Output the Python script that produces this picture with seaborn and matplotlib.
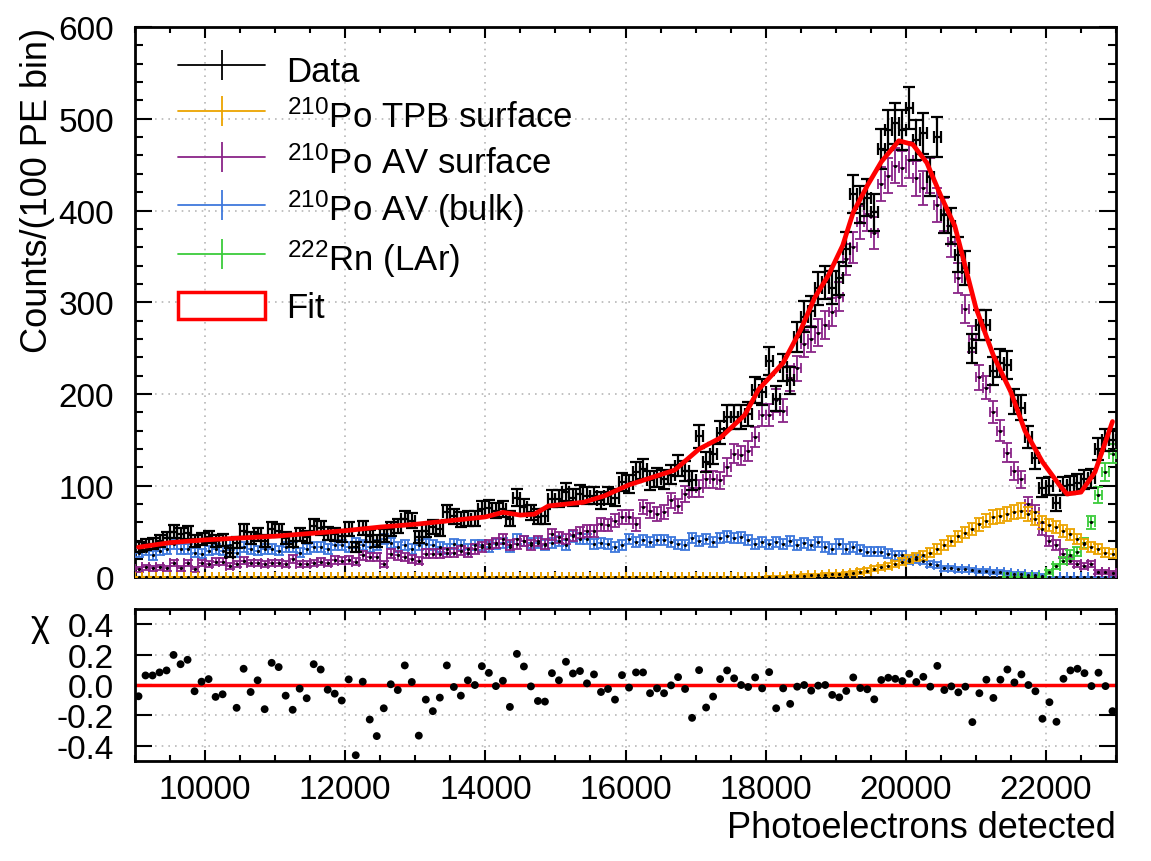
import numpy as np
import pandas as pd
import matplotlib
matplotlib.use("Agg")
import matplotlib.pyplot as plt
import seaborn as sns
from matplotlib.lines import Line2D
from matplotlib.patches import Patch, Rectangle
from matplotlib.legend_handler import HandlerPatch
from matplotlib.ticker import MultipleLocator, FormatStrFormatter

# ---------------- data ----------------
bin_width = 100
bin_centers = np.arange(9050, 23000, bin_width)  # 140 bins of 100 PE

data_counts = [33, 36, 37, 40, 43, 50, 47, 49, 40, 42, 44, 40, 41, 27, 38, 51, 43, 47, 40, 53,
               51, 43, 40, 47, 44, 56, 54, 48, 47, 45, 53, 33, 54, 45, 40,
               46, 53, 56, 64, 62, 44, 51, 55, 53, 71, 67, 63, 64, 64, 75, 76, 73, 75, 64, 87,
               77, 71, 66, 67, 86, 86, 93, 87, 91, 89, 89, 84, 89, 87,
               104, 102, 115, 118, 106, 109, 107, 112, 122, 116, 106, 154, 126, 135, 158, 175,
               175, 175, 178, 204, 202, 236, 195, 229, 215, 262, 284, 290, 315,
               322, 316, 326, 358, 418, 407, 414, 398, 467, 488, 495, 488, 512, 477, 484, 437,
               480, 395, 383, 352, 337,
               250, 275, 275, 225, 234, 232, 192, 185, 153, 130, 98, 100, 81, 100, 101, 103,
               107, 108, 140, 150, 150]

po_av_surface = [9, 11, 10, 11, 10, 16, 10, 16, 9, 16, 15, 17, 17, 13, 15, 18, 16, 16, 15, 16,
                 16, 15, 20, 15, 15, 16, 17, 16, 19, 18, 19, 17, 24, 22, 22,
                 15, 26, 24, 22, 20, 18, 26, 26, 26, 27, 27, 29, 27, 31, 33, 36, 38, 42, 35, 37,
                 40, 35, 40, 37, 47, 44, 42, 46, 49, 51, 51, 58, 57, 62, 66, 66,
                 58, 77, 73, 69, 71, 84, 78, 91, 97, 97, 107, 107, 106, 120, 135, 133, 138, 153,
                 177, 177, 193, 182, 217, 228, 255, 260, 267,
                 275, 289, 306, 347, 360, 387, 396, 376, 429, 438, 449, 446, 455, 435, 424, 438,
                 406, 396, 366, 326, 293,
                 260, 218, 207, 180, 160, 136, 116, 107, 80, 71, 53, 40, 35, 26, 18, 15, 13, 15,
                 6, 6, 5]

po_av_bulk = [27, 29, 24, 29, 31, 36, 31, 31, 27, 26, 29, 31, 29, 35, 27, 33, 31, 29, 31, 31,
              29, 33, 33, 27, 31, 33, 33, 31, 35, 35, 33, 38, 35, 33, 35,
              42, 38, 33, 35, 31, 35, 37, 35, 33, 31, 37, 35, 31, 35, 35, 33, 37, 38, 33, 42,
              40, 38, 38, 35, 38, 40, 35, 45, 42, 42, 37, 38, 37, 33,
              35, 42, 39, 41, 39, 41, 41, 39, 36, 35, 43, 40, 42, 39, 43, 45, 43, 44, 41, 37,
              39, 36, 39, 37, 40, 35, 38, 35, 39,
              33, 31, 37, 31, 33, 30, 28, 28, 28, 26, 24, 24, 18, 20, 18, 15, 14, 10, 10, 9, 9,
              8, 7, 7, 6, 6, 5, 4, 4, 3, 3, 2, 0, 0, 0, 0, 0, 0, 0, 0, 0, 0]

po_tpb_surface = ([0] * 88 +
                  [0.3, 0.4, 0.5, 0.7, 0.9, 1.2, 1.5, 2, 2.3, 2.6, 3, 3.3, 3.6] +
                  [4, 5, 6.5, 7.6, 9.3, 11, 13, 15, 17, 20, 22, 24, 27, 31, 35, 40, 45, 49] +
                  [53, 58, 62, 66, 67, 69, 71, 73, 69, 64, 60, 57, 55, 51, 47, 42, 37, 33, 31,
                   27, 26])

rn_first_bin = 124
rn_lar = [0, 0, 0, 0, 0, 0, 6, 12, 18, 25, 28, 38, 60, 90, 115, 135]

fit_pe = [9050, 9500, 10000, 10500, 11000, 11500, 12000, 12500, 13000, 13500, 14000, 14250,
          14500, 14700, 14900, 15400, 15700, 16050, 16700, 17050, 17350, 17700, 17900, 18250,
          18500, 18700, 18900, 19100, 19250, 19450, 19650, 19900, 20100, 20300, 20500, 20700,
          21000, 21250, 21500, 21700, 21950, 22200, 22300, 22500, 22700, 22950]
fit_counts = [33, 38, 41, 43, 45, 48, 51, 55, 58, 62, 66, 71, 68, 69, 78, 82, 89, 101, 117, 140,
              152, 177, 205, 234, 270, 305, 330, 362, 398, 427, 453, 476, 472, 452, 416, 383,
              294, 242, 202, 160, 126, 100, 91, 93, 115, 170]

chi = [-0.074, 0.063, 0.063, 0.083, 0.096, 0.198, 0.137, 0.166, -0.041, 0.022,
       0.039, -0.078, -0.061, np.nan, -0.15, 0.107, -0.046, 0.031, -0.159, 0.146,
       0.118, -0.07, -0.163, -0.024, -0.087, 0.137, 0.102, -0.031, -0.057, -0.102,
       0.037, -0.462, 0.022, -0.227, -0.336, -0.153, 0.005, -0.033, 0.129, 0.02,
       -0.333, -0.096, -0.172, -0.083, 0.129, -0.013, -0.07,
       0.031, 0.0, 0.124, 0.08, -0.007, 0.028, -0.144, 0.205, 0.122, -0.009,
       -0.105, -0.109, 0.078, 0.031, 0.153, 0.076, 0.092, 0.011, 0.07, -0.046,
       -0.026, -0.096, 0.065, -0.017, 0.083, 0.083, -0.054, -0.022, -0.054, -0.002,
       0.052, -0.026, -0.216, 0.098, -0.148, -0.076, 0.039, 0.096, 0.044, 0.0,
       -0.013, 0.05, -0.022, 0.085, -0.153,
       -0.022, -0.124, -0.011, 0.0, -0.037, -0.004, 0.0, -0.065, -0.081, -0.039,
       0.05, -0.02, -0.028, -0.094, 0.033, 0.048, 0.041, 0.026, 0.074, 0.02,
       0.054, -0.011, 0.126, -0.033, -0.009, -0.048, -0.011, -0.244, -0.054, 0.035,
       -0.085, 0.035, 0.102, 0.017, 0.07, 0.0, -0.041, -0.222, -0.113, -0.242,
       0.041, 0.096, 0.107, 0.078, -0.007, 0.081, -0.007, -0.172]

labels = ["Data", "$^{210}$Po TPB surface", "$^{210}$Po AV surface",
          "$^{210}$Po AV (bulk)", "$^{222}$Rn (LAr)", "Fit"]
colors = {"data": "black", "tpb": "#eca400", "avs": "#8a2488", "bulk": "#3f78dc",
          "rn": "#3ccc3c", "fit": "#ff0000"}

# ---------------- style ----------------
sns.set_theme(style="ticks")
plt.rcParams["font.family"] = ["Liberation Sans", "DejaVu Sans"]
plt.rcParams["mathtext.fontset"] = "custom"
plt.rcParams["mathtext.rm"] = "Liberation Sans"
plt.rcParams["mathtext.it"] = "Liberation Sans:italic"
plt.rcParams["mathtext.default"] = "regular"
plt.rcParams["axes.unicode_minus"] = False
for key in ["text.color", "axes.labelcolor", "xtick.color", "ytick.color", "axes.edgecolor"]:
    plt.rcParams[key] = "black"

TICK_FS = 24
LEG_FS = 25
LAB_FS = 26

fig = plt.figure(figsize=(11.51, 8.62), dpi=100)
ax = fig.add_axes([0.1173, 0.3289, 0.8523, 0.6386])
axr = fig.add_axes([0.1173, 0.116, 0.8523, 0.1763], sharex=ax)

half = bin_width / 2


def comp(axis, x, y, color, scale=0.9):
    y = np.asarray(y, dtype=float)
    axis.errorbar(x, y, xerr=half, yerr=scale * np.sqrt(y), fmt=".", ms=2.5,
                  mfc="black", mec="black", ecolor=color, elinewidth=1.3,
                  capsize=3.5, capthick=1.3, zorder=3)


x = bin_centers
comp(ax, x, po_av_bulk, colors["bulk"])
comp(ax, x, po_av_surface, colors["avs"])
comp(ax, x[rn_first_bin:], rn_lar, colors["rn"])
comp(ax, x, po_tpb_surface, colors["tpb"])

d = np.asarray(data_counts, dtype=float)
ax.errorbar(x, d, xerr=half, yerr=np.sqrt(d), fmt="none", ecolor="black",
            elinewidth=1.6, capsize=4.5, capthick=1.6, zorder=4)

fit_df = pd.DataFrame({"pe": fit_pe, "counts": fit_counts})
sns.lineplot(data=fit_df, x="pe", y="counts", ax=ax, color=colors["fit"], lw=3.4,
             sort=False, zorder=5)

ax.set_xlim(9000, 23000)
ax.set_ylim(0, 600)
ax.yaxis.set_major_locator(MultipleLocator(100))
ax.yaxis.set_minor_locator(MultipleLocator(20))
ax.xaxis.set_major_locator(MultipleLocator(2000))
ax.xaxis.set_minor_locator(MultipleLocator(500))
ax.set_xlabel("")
ax.set_ylabel("Counts/(100 PE bin)", fontsize=LAB_FS, loc="top")
ax.yaxis.set_label_coords(-0.082, 1.0)
ax.tick_params(axis="both", which="both", direction="in", top=True, right=True,
               labelsize=TICK_FS, width=1.5, labelbottom=False)
ax.tick_params(axis="y", which="major", length=12, pad=15)
ax.tick_params(axis="y", which="minor", length=6)
ax.tick_params(axis="x", which="major", length=8)
ax.tick_params(axis="x", which="minor", length=4)
ax.grid(True, which="major", color="#b8b8b8", linestyle=(0, (1, 3)), linewidth=1.2)
ax.set_axisbelow(True)
for s in ax.spines.values():
    s.set_linewidth(2)


def fit_box(legend, orig_handle, xdescent, ydescent, width, height, fontsize):
    h = 0.72 * height
    return Rectangle((-xdescent, -ydescent + (height - h) / 2), width, h)


handles = [Line2D([0], [0], color=colors[k], lw=1.3, marker="|", markersize=21, mew=1.3)
           for k in ["data", "tpb", "avs", "bulk", "rn"]]
fit_handle = Patch(facecolor="white", edgecolor=colors["fit"], linewidth=2.5)
handles.append(fit_handle)
ax.legend(handles, labels, loc="upper left", bbox_to_anchor=(0.044, 0.958), fontsize=LEG_FS,
          frameon=False, handlelength=2.5, handleheight=1.3, handletextpad=0.62,
          labelspacing=0.23, borderpad=0, borderaxespad=0, numpoints=1,
          handler_map={fit_handle: HandlerPatch(patch_func=fit_box)})

# ---------------- residual panel ----------------
res_df = pd.DataFrame({"pe": bin_centers, "chi": chi}).dropna()
axr.axhline(0, color=colors["fit"], lw=2.5, zorder=2)
sns.scatterplot(data=res_df, x="pe", y="chi", ax=axr, color="black", s=32,
                edgecolor="none", zorder=3)
axr.set_ylim(-0.5, 0.5)
axr.set_yticks([-0.4, -0.2, 0.0, 0.2, 0.4])
axr.yaxis.set_major_formatter(FormatStrFormatter("%.1f"))
axr.tick_params(axis="both", which="both", direction="in", top=True, right=True,
                labelsize=TICK_FS, width=1.5)
axr.tick_params(axis="y", which="major", length=12, pad=15)
axr.tick_params(axis="x", which="major", length=8, pad=9)
axr.tick_params(axis="x", which="minor", length=4)
axr.grid(True, which="major", color="#b8b8b8", linestyle=(0, (1, 3)), linewidth=1.2)
axr.set_axisbelow(True)
axr.set_ylabel("χ", fontsize=LAB_FS, rotation=0, ha="center", va="center")
axr.yaxis.set_label_coords(-0.097, 0.89)
axr.set_xlabel("Photoelectrons detected", fontsize=LAB_FS, loc="right")
axr.xaxis.set_label_coords(1.0, -0.32)
for s in axr.spines.values():
    s.set_linewidth(2)

fig.savefig("out.png", dpi=100)
